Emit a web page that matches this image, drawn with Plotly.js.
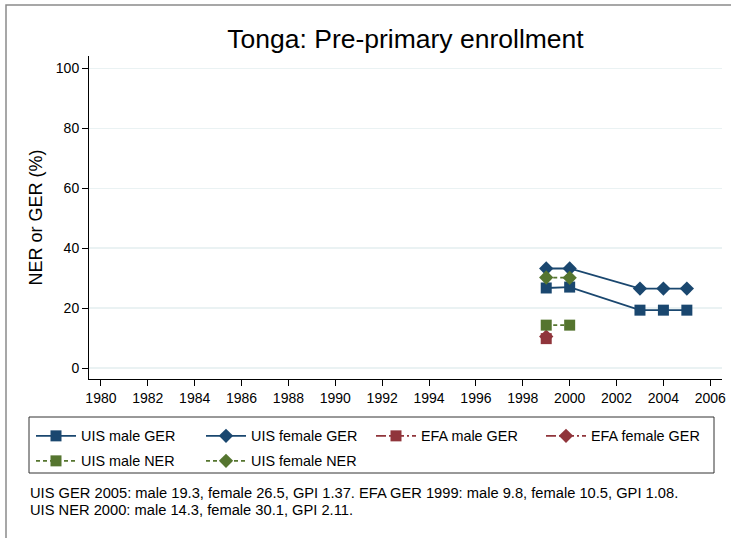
<!DOCTYPE html>
<html>
<head>
<meta charset="utf-8">
<script src="https://cdn.plot.ly/plotly-3.0.1.min.js"></script>
<style>html,body{margin:0;padding:0;background:#fff;}#chart{width:731px;height:538px;}</style>
</head>
<body>
<div id="chart"></div>
<script>
// Data
const uisYears = [1999, 2000, 2003, 2004, 2005];
const uisMaleGER = [26.7, 27.0, 19.3, 19.3, 19.3];
const uisFemaleGER = [33.2, 33.2, 26.5, 26.5, 26.5];
const efaYears = [1999];
const efaMaleGER = [9.8];
const efaFemaleGER = [10.5];
const nerYears = [1999, 2000];
const uisMaleNER = [14.3, 14.3];
const uisFemaleNER = [30.2, 30.1];
const seriesNames = ["UIS male GER", "UIS female GER", "EFA male GER", "EFA female GER", "UIS male NER", "UIS female NER"];
const xTicks = [1980, 1982, 1984, 1986, 1988, 1990, 1992, 1994, 1996, 1998, 2000, 2002, 2004, 2006];
const yTicks = [0, 20, 40, 60, 80, 100];
const titleText = "Tonga: Pre-primary enrollment";
const yTitle = "NER or GER (%)";
const noteLines = [
  "UIS GER 2005: male 19.3, female 26.5, GPI 1.37. EFA GER 1999: male 9.8, female 10.5, GPI 1.08.",
  "UIS NER 2000: male 14.3, female 30.1, GPI 2.11."
];

const NAVY = "#1a476f", MAROON = "#90353b", GREEN = "#55752f";
const FONT = "Liberation Sans, Arial, Helvetica, sans-serif";

function tr(x, y, name, color, symbol, size, dash, legendId) {
  return {
    x: x, y: y, name: name, type: "scatter", mode: "lines+markers",
    line: {color: color, width: 1.8, dash: dash},
    marker: {color: color, symbol: symbol, size: size, line: {width: 0}},
    cliponaxis: false, legend: legendId
  };
}

const traces = [
  tr(uisYears, uisMaleGER, seriesNames[0], NAVY, "square", 11, "solid", "legend"),
  tr(uisYears, uisFemaleGER, seriesNames[1], NAVY, "diamond", 11, "solid", "legend"),
  tr(efaYears, efaMaleGER, seriesNames[2], MAROON, "square", 11, "10px,3px,2px,3px", "legend"),
  tr(efaYears, efaFemaleGER, seriesNames[3], MAROON, "diamond", 11, "10px,3px,2px,3px", "legend"),
  tr(nerYears, uisMaleNER, seriesNames[4], GREEN, "square", 11, "4px,3px", "legend2"),
  tr(nerYears, uisFemaleNER, seriesNames[5], GREEN, "diamond", 11, "4px,3px", "legend2")
];

const W = 731, H = 538;
const mL = 89, mR = 9, mT = 56, mB = 159;
const pw = W - mL - mR, ph = H - mT - mB;
const px = v => (v - mL) / pw;
const py = v => (H - mB - v) / ph;

function legendRow(yCenter) {
  return {
    orientation: "h", x: px(31), xanchor: "left", y: py(yCenter), yanchor: "middle",
    borderwidth: 0, bgcolor: "rgba(0,0,0,0)",
    font: {family: FONT, size: 14.4, color: "#000"},
    itemwidth: 40, entrywidth: 115, entrywidthmode: "pixels", traceorder: "normal", itemclick: false
  };
}

const layout = {
  width: W, height: H,
  margin: {l: mL, r: mR, t: mT, b: mB, pad: 0},
  paper_bgcolor: "#ffffff", plot_bgcolor: "#ffffff",
  font: {family: FONT, size: 14, color: "#000"},
  title: {text: titleText, font: {family: FONT, size: 26.5, color: "#000"}, x: 0.5, xref: "paper", xanchor: "center", y: 1 - 39 / H, yanchor: "middle"},
  xaxis: {
    range: [1979.49, 2006.5], tickvals: xTicks, ticktext: xTicks.map(String),
    showgrid: false, zeroline: false, showline: true, linecolor: "#000", linewidth: 1,
    ticks: "outside", ticklen: 6, tickcolor: "#000", tickwidth: 1,
    tickfont: {family: FONT, size: 14, color: "#000"}, fixedrange: true
  },
  yaxis: {
    range: [-3.67, 104.1], tickvals: yTicks, ticktext: yTicks.map(String),
    showgrid: true, gridcolor: "#eaf2f3", gridwidth: 1.3, zeroline: false,
    showline: true, linecolor: "#000", linewidth: 1,
    ticks: "outside", ticklen: 6, tickcolor: "#000", tickwidth: 1,
    tickfont: {family: FONT, size: 14, color: "#000"},
    title: {text: yTitle, font: {family: FONT, size: 18, color: "#000"}, standoff: 8},
    fixedrange: true
  },
  showlegend: true,
  legend: legendRow(436),
  legend2: legendRow(461),
  shapes: [
    {
      type: "rect", xref: "paper", yref: "paper",
      x0: px(6), x1: px(740), y0: py(545), y1: py(5),
      line: {color: "#8a8a8a", width: 1.5}, fillcolor: "rgba(0,0,0,0)", layer: "below"
    },
    {
      type: "rect", xref: "paper", yref: "paper",
      x0: px(29), x1: px(714), y0: py(473), y1: py(417),
      line: {color: "#333", width: 1}, fillcolor: "rgba(0,0,0,0)", layer: "below"
    }
  ],
  annotations: noteLines.map((t, i) => ({
    xref: "paper", yref: "paper", x: px(28), y: py(493 + i * 16.5), xanchor: "left", yanchor: "middle",
    align: "left", showarrow: false, text: t,
    font: {family: FONT, size: 14.7, color: "#000"}
  }))
};

Plotly.newPlot("chart", traces, layout, {displayModeBar: false, staticPlot: true});
</script>
</body>
</html>
